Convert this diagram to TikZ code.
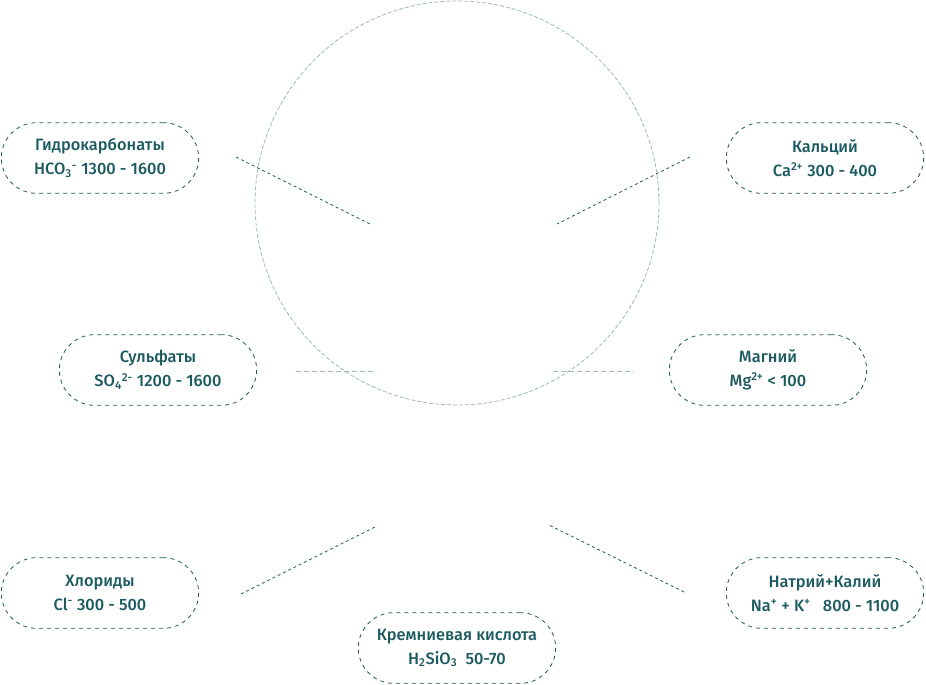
\documentclass[tikz,border=0pt]{standalone}
\usepackage{fontspec}
\setmainfont{Fira Sans Medium}
\definecolor{ink}{HTML}{1B5A60}
\definecolor{rim}{HTML}{1F5A4E}
\definecolor{pale}{HTML}{9DBAB0}
\begin{document}
\begin{tikzpicture}[x=0.75pt, y=-0.75pt,
    ion/.style={draw=rim, dashed, rounded corners=26.5pt, minimum width=148pt, minimum height=53pt,
        align=center, text=ink, font=\fontsize{12.3}{18}\selectfont, line width=0.6pt},
    tie/.style={draw=rim, line width=0.6pt, dash pattern=on 2.2pt off 2.2pt},
    flat/.style={draw=pale, line width=0.6pt, dash pattern=on 4pt off 2pt}]
    \useasboundingbox (0,0) rectangle (926,685);
    \draw[pale, line width=0.6pt, dash pattern=on 3pt off 1.5pt] (457,203) circle (151.5pt);
    % ions
    \node[ion] (hco) at (100,158) {Гидрокарбонаты\\HCO\textsubscript{3}\textsuperscript{-} 1300 - 1600};
    \node[ion] (ca) at (825,158) {Кальций\\Ca\textsuperscript{2+} 300 - 400};
    \node[ion] (so) at (158,370) {Сульфаты\\SO\textsubscript{4}\textsuperscript{2-} 1200 - 1600};
    \node[ion] (mg) at (768,370) {Магний\\Mg\textsuperscript{2+} < 100};
    \node[ion] (cl) at (100,593) {Хлориды\\Cl\textsuperscript{-} 300 - 500};
    \node[ion] (nak) at (825,593) {Натрий+Калий\\Na\textsuperscript{+} + K\textsuperscript{+}\ \ \ 800 - 1100};
    \node[ion] (si) at (457,648) {Кремниевая кислота\\H\textsubscript{2}SiO\textsubscript{3}\ \ 50-70};
    % ends of the ties
    \coordinate (hco1) at (236,157); \coordinate (hco2) at (370,224);
    \coordinate (ca1) at (690,157); \coordinate (ca2) at (557,224);
    \coordinate (so1) at (296,371); \coordinate (so2) at (376,371);
    \coordinate (mg1) at (553,371); \coordinate (mg2) at (634,371);
    \coordinate (cl1) at (241,594); \coordinate (cl2) at (375,527);
    \coordinate (nak1) at (684,592); \coordinate (nak2) at (549,525);
    \draw[tie] (hco1) -- (hco2);
    \draw[tie] (ca1) -- (ca2);
    \draw[flat] (so1) -- (so2);
    \draw[flat] (mg1) -- (mg2);
    \draw[tie] (cl1) -- (cl2);
    \draw[tie] (nak1) -- (nak2);
\end{tikzpicture}
\end{document}
